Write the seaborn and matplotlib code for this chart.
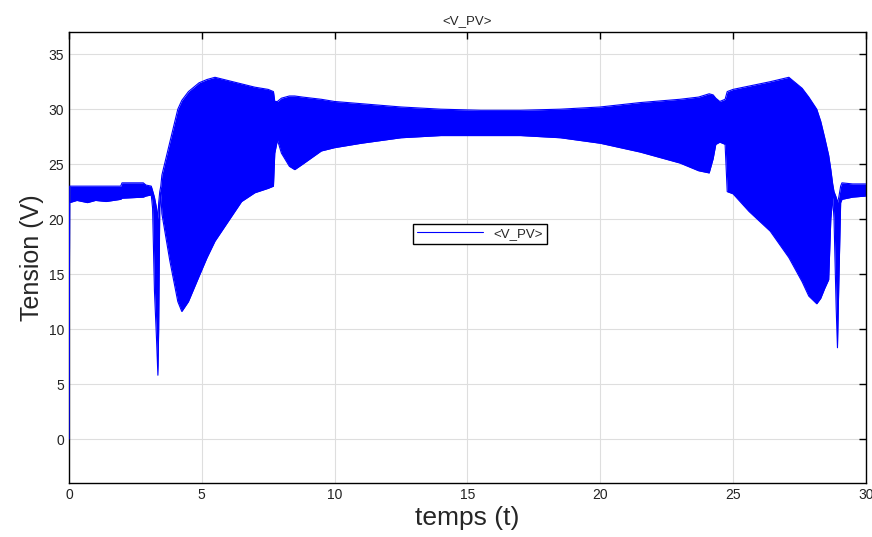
import matplotlib
matplotlib.use("Agg")
import matplotlib.pyplot as plt
import seaborn as sns
import numpy as np

# time points (s) and envelope of the oscillating PV voltage (V)
t = [0.0, 0.03, 0.3, 0.7, 1.0, 1.4, 1.95, 2.0, 2.8, 2.9, 3.1, 3.15, 3.22, 3.3, 3.35,
     3.38, 3.42, 3.46, 3.5, 3.8, 4.1, 4.25, 4.5, 4.9, 5.2, 5.5, 6.0, 6.5, 7.0, 7.5,
     7.7, 7.75, 7.85, 8.0, 8.3, 8.5, 8.8, 9.5, 10.0, 11.0, 12.5, 14.0, 15.5, 17.0,
     18.5, 20.0, 21.5, 23.0, 23.7, 24.1, 24.25, 24.35, 24.5, 24.7, 24.78, 25.0,
     25.6, 26.4, 27.1, 27.6, 27.85, 28.15, 28.3, 28.45, 28.6, 28.68, 28.75,
     28.8, 28.88, 28.93, 28.98, 29.05, 29.1, 29.5, 30.0]
upper = [0.0, 23.0, 23.0, 23.0, 23.0, 23.0, 23.0, 23.3, 23.3, 23.1, 23.0, 22.6, 22.0, 21.0, 20.0,
         21.5, 22.5, 23.0, 24.0, 27.0, 30.0, 30.8, 31.6, 32.4, 32.7, 32.9, 32.6, 32.3, 32.0, 31.8,
         31.6, 30.7, 30.7, 31.0, 31.2, 31.2, 31.1, 30.9, 30.7, 30.5, 30.2, 30.0, 29.9, 29.9,
         30.0, 30.2, 30.6, 30.9, 31.1, 31.4, 31.3, 31.0, 30.7, 30.9, 31.6, 31.8,
         32.1, 32.5, 32.9, 31.9, 31.1, 30.0, 28.9, 27.4, 25.8, 24.5, 23.2,
         22.5, 22.0, 21.5, 22.0, 23.0, 23.3, 23.2, 23.2]
lower = [0.0, 21.5, 21.7, 21.5, 21.7, 21.6, 21.8, 21.9, 22.0, 22.1, 22.2, 21.0, 13.5, 9.0, 5.8,
         10.0, 21.0, 22.4, 20.5, 16.2, 12.5, 11.6, 12.5, 14.8, 16.5, 18.0, 19.8, 21.6, 22.4, 22.8,
         23.0, 26.0, 27.2, 26.0, 24.8, 24.5, 25.0, 26.2, 26.5, 26.9, 27.4, 27.6, 27.6, 27.6,
         27.4, 26.9, 26.1, 25.1, 24.4, 24.2, 25.5, 26.8, 27.0, 26.8, 22.5, 22.3,
         20.7, 18.9, 16.5, 14.3, 13.0, 12.3, 12.8, 13.7, 14.5, 20.0, 22.0,
         20.0, 12.0, 8.3, 14.0, 21.5, 21.8, 22.0, 22.1]

x_ticks = [0, 5, 10, 15, 20, 25, 30]
y_ticks = [0, 5, 10, 15, 20, 25, 30, 35]
series_label = "<V_PV>"

sns.set_style("white")
plt.rcParams["font.family"] = ["Liberation Sans", "DejaVu Sans"]

fig = plt.figure(figsize=(8.72, 5.37), dpi=100)
ax = fig.add_axes([0.079, 0.1006, 0.914, 0.8394])

blue = "#0000ff"
ax.fill_between(t, lower, upper, color=blue, lw=0, zorder=2)
sns.lineplot(x=t, y=upper, ax=ax, color=blue, lw=0.8, label=series_label, zorder=3)
sns.lineplot(x=t, y=lower, ax=ax, color=blue, lw=0.8, zorder=3)

ax.set_xlim(0, 30)
ax.set_ylim(-4, 37)
ax.set_xticks(x_ticks)
ax.set_yticks(y_ticks)
ax.grid(True, color="#dedede", lw=0.8, zorder=0)
ax.set_axisbelow(True)
ax.tick_params(direction="in", length=5, width=1, top=True, right=True,
               labelsize=10, labelcolor="#222222", colors="black")
for sp in ax.spines.values():
    sp.set_color("black")
    sp.set_linewidth(1.0)

ax.set_title("<V_PV>", fontsize=9.5, pad=6)
ax.set_xlabel("temps (t)", fontsize=19, labelpad=3)
ax.set_ylabel("Tension (V)", fontsize=18, labelpad=3)

leg = ax.legend(loc="center left", bbox_to_anchor=(0.423, 0.553), fontsize=9.5,
                frameon=True, fancybox=False, handlelength=5, borderpad=0.3,
                handletextpad=0.8)
leg.get_frame().set_edgecolor("black")
leg.get_frame().set_linewidth(1.0)
leg.get_frame().set_alpha(1)

fig.savefig("out.png", dpi=100)
